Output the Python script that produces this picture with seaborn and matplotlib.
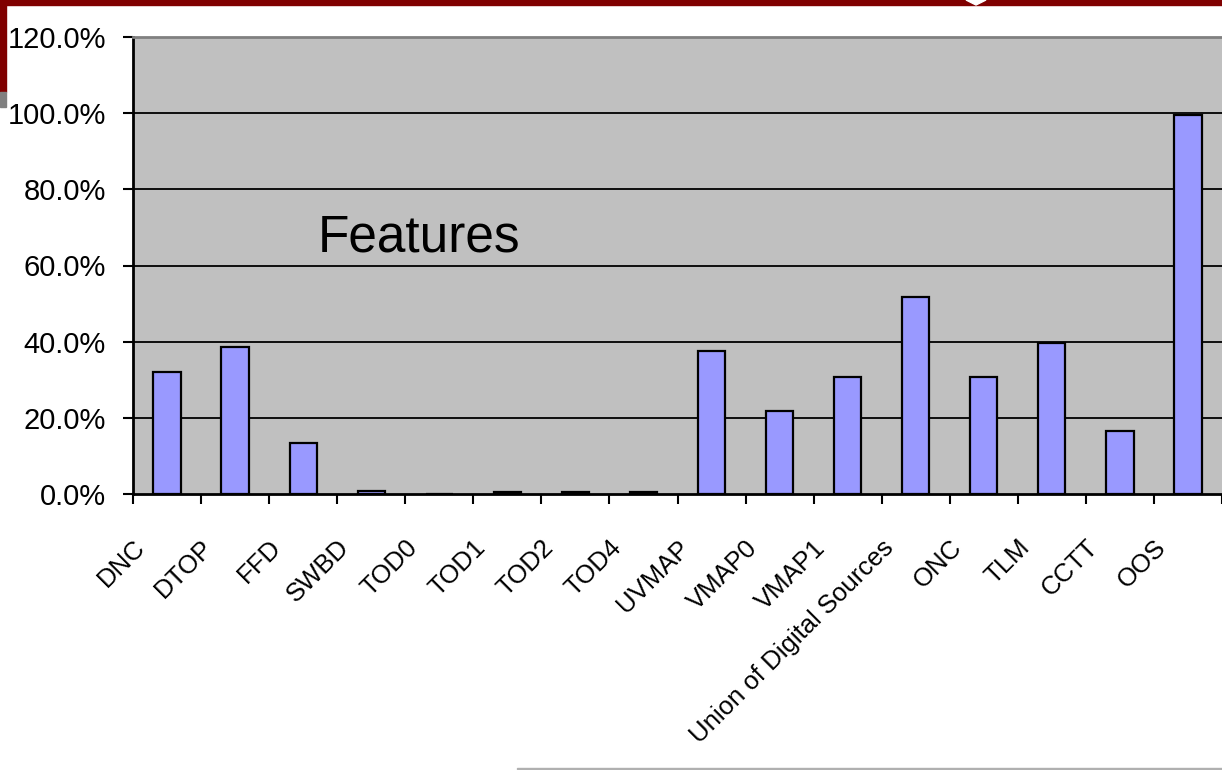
import matplotlib
matplotlib.use('Agg')
import matplotlib.pyplot as plt
import matplotlib.transforms as mtransforms
from matplotlib.patches import Rectangle, Polygon
import seaborn as sns
import pandas as pd

sources = ['DNC', 'DTOP', 'FFD', 'SWBD', 'TOD0', 'TOD1', 'TOD2', 'TOD4', 'UVMAP',
           'VMAP0', 'VMAP1', 'Union of Digital Sources', 'ONC', 'TLM', 'CCTT', 'OOS']
pct = [32.0, 38.6, 13.4, 0.9, 0.0, 0.4, 0.4, 0.4, 37.5,
       21.7, 30.8, 51.6, 30.8, 39.7, 16.6, 99.6]
yticks = [0, 20, 40, 60, 80, 100, 120]

df = pd.DataFrame({'Source': sources, 'Percent': pct})

sns.set_style('white')
plt.rcParams['font.family'] = ['Liberation Sans', 'DejaVu Sans']
plt.rcParams['text.color'] = 'black'
plt.rcParams['xtick.color'] = 'black'
plt.rcParams['ytick.color'] = 'black'

fig = plt.figure(figsize=(12.22, 7.7), dpi=100)
ax = fig.add_axes([133 / 1222, 1 - 494 / 770, 1089 / 1222, 457 / 770])
ax.set_facecolor('#C0C0C0')

sns.barplot(data=df, x='Source', y='Percent', order=sources, color='#9999FF',
            saturation=1, edgecolor='black', linewidth=1.6, width=0.4, ax=ax, zorder=3)

ax.set_xlim(-0.5, len(sources) - 0.5)
ax.set_ylim(0, 120)
ax.set_yticks(yticks)
ax.set_yticklabels(['%.1f%%' % v for v in yticks], fontsize=21, color='black')
for v in yticks[1:-1]:
    ax.axhline(v, color='black', lw=1.3, zorder=1)

ax.set_xlabel('')
ax.set_ylabel('')
ax.set_xticks(range(len(sources)))
ax.set_xticklabels(sources, rotation=45, ha='right', va='center',
                   rotation_mode='anchor', fontsize=18.5, color='black')
ax.set_xticks([i - 0.5 for i in range(len(sources) + 1)], minor=True)
ax.tick_params(axis='x', which='major', length=0, pad=0)
ax.tick_params(axis='x', which='minor', length=7.5, width=1.5, color='black',
               direction='out', bottom=True)
ax.tick_params(axis='y', length=7.5, width=1.5, color='black', pad=12, left=True)

shift = mtransforms.ScaledTranslation(-0.26, -0.5, fig.dpi_scale_trans)
for lbl in ax.get_xticklabels():
    lbl.set_transform(lbl.get_transform() + shift)

for side in ['left', 'bottom']:
    ax.spines[side].set_color('black')
    ax.spines[side].set_linewidth(2)
ax.spines['top'].set_color('#808080')
ax.spines['top'].set_linewidth(2)
ax.spines['right'].set_visible(False)

ax.text(318, 770 - 252, 'Features', transform=None, fontsize=37, color='black',
        ha='left', va='baseline')

# slide decoration around the chart
fig.patches.append(Rectangle((0, 1 - 5 / 770), 1, 5 / 770, transform=fig.transFigure,
                             color='#800000', zorder=0))
fig.patches.append(Rectangle((0, 1 - 92 / 770), 6 / 1222, 92 / 770, transform=fig.transFigure,
                             color='#800000', zorder=0))
fig.patches.append(Rectangle((0, 1 - 107 / 770), 6 / 1222, 15 / 770, transform=fig.transFigure,
                             color='#808080', zorder=0))
fig.patches.append(Polygon([(966 / 1222, 1), (986 / 1222, 1), (976 / 1222, 1 - 5 / 770)],
                           closed=True, transform=fig.transFigure, color='white', zorder=1))
fig.patches.append(Rectangle((517 / 1222, 1 / 770), 705 / 1222, 1.5 / 770, transform=fig.transFigure,
                             color='#B0B0B0', zorder=0))

plt.savefig('out.png', dpi=100)
plt.close()
